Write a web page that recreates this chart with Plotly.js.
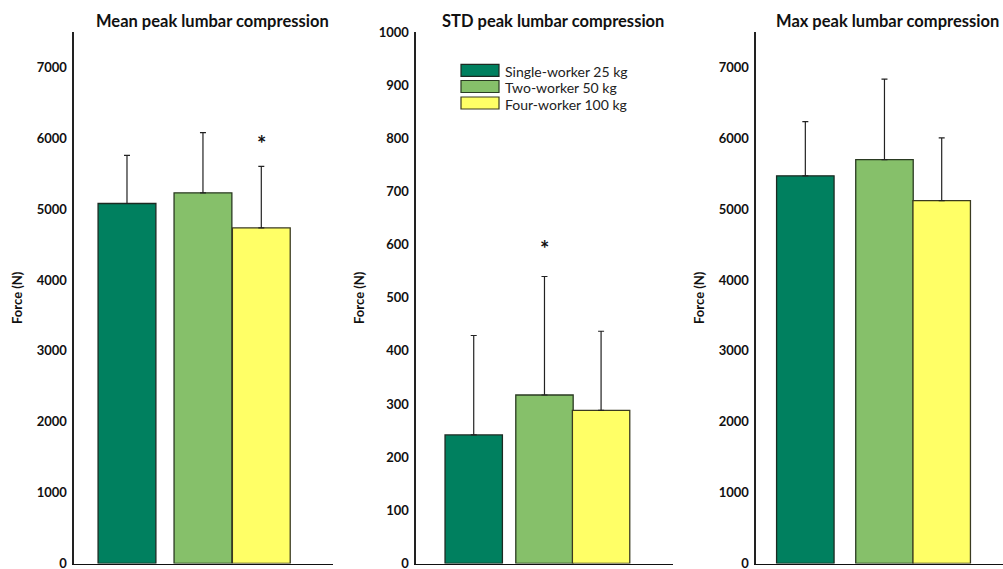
<!DOCTYPE html>
<html>
<head>
<meta charset="utf-8">
<script src="https://cdn.plot.ly/plotly-3.0.1.min.js"></script>
<style>
html,body{margin:0;padding:0;overflow:hidden;background:#fff;}
#chart{width:1020px;height:585px;}
</style>
</head>
<body>
<div id="chart"></div>
<script>
// ---- data ----
const groups = ['Single-worker 25 kg', 'Two-worker 50 kg', 'Four-worker 100 kg'];
const panelTitles = ['Mean peak lumbar compression', 'STD peak lumbar compression', 'Max peak lumbar compression'];
const yTitle = 'Force (N)';
const meanValues = [5080, 5230, 4735];
const meanErrors = [680, 850, 870];
const stdValues = [242, 317, 288];
const stdErrors = [187, 223, 149];
const maxValues = [5470, 5700, 5120];
const maxErrors = [765, 1135, 885];
const significance = ['', '', '*'];      // mean panel
const significanceStd = ['', '*', ''];   // std panel
const significanceMax = ['', '', ''];

// ---- styling ----
const W = 1020, H = 585;   // page is cropped to 1003x569 by the window
const colors = ['#00805F', '#86C06A', '#FFFF66'];
const outline = ['#1c2a22', '#2a3a22', '#3a3a20'];
const FONT = 'Lato, "Open Sans", "Liberation Sans", sans-serif';
const panelsPx = [[73.7, 333], [415.7, 673], [755.7, 1013.5]];
const titleShift = [9, 9, 3];
const offsets = [[-0.406, -0.113, 0.112], [-0.386, -0.111, 0.109], [-0.419, -0.112, 0.110]];
const barW = 0.223;
const yDom = [(H - 563.5) / H, (H - 32) / H];

const panels = [
  {vals: meanValues, errs: meanErrors, sig: significance, range: [0, 7500], dtick: 1000, sigY: 5920},
  {vals: stdValues, errs: stdErrors, sig: significanceStd, range: [0, 1000], dtick: 100, sigY: 592},
  {vals: maxValues, errs: maxErrors, sig: significanceMax, range: [0, 7500], dtick: 1000, sigY: 0}
];

const data = [];
const layout = {
  width: W, height: H,
  margin: {l: 0, r: 0, t: 0, b: 0},
  paper_bgcolor: '#fff', plot_bgcolor: 'rgba(0,0,0,0)',
  barmode: 'overlay',
  showlegend: false,
  font: {family: FONT, color: '#111'},
  annotations: [], shapes: []
};

panels.forEach((p, pi) => {
  const sfx = pi === 0 ? '' : String(pi + 1);
  groups.forEach((g, gi) => {
    data.push({
      type: 'bar', name: g,
      x: [''], y: [p.vals[gi]],
      xaxis: 'x' + sfx, yaxis: 'y' + sfx,
      offset: offsets[pi][gi], width: barW,
      marker: {color: colors[gi], line: {color: outline[gi], width: 1.3}},
      error_y: {type: 'data', symmetric: false, array: [p.errs[gi]], arrayminus: [0],
                color: '#222', thickness: 1.2, width: 3},
      hoverinfo: 'skip'
    });
    if (p.sig[gi]) {
      layout.annotations.push({
        xref: 'x' + sfx, yref: 'y' + sfx,
        x: offsets[pi][gi] + barW / 2, y: p.sigY,
        text: '<b>' + p.sig[gi] + '</b>', showarrow: false,
        font: {family: FONT, size: 22, color: '#111'}
      });
    }
  });
  const [a, b] = panelsPx[pi];
  layout['xaxis' + sfx] = {
    domain: [a / W, b / W], anchor: 'y' + sfx, type: 'category',
    range: [-0.5, 0.5], showticklabels: false, ticks: '',
    showline: true, linecolor: '#111', linewidth: 1.3,
    showgrid: false, zeroline: false, fixedrange: true
  };
  layout['yaxis' + sfx] = {
    domain: yDom, anchor: 'x' + sfx, range: p.range, dtick: p.dtick, tick0: 0,
    showline: true, linecolor: '#222', linewidth: 1.3,
    ticks: 'outside', ticklen: 3, tickcolor: 'rgba(0,0,0,0)',
    showgrid: false, zeroline: false, fixedrange: true,
    tickfont: {family: FONT, size: 13, color: '#111', weight: 'bold'},
    title: {text: yTitle, standoff: 11, font: {family: FONT, size: 13, color: '#111', weight: 'bold'}}
  };
  layout.annotations.push({
    xref: 'paper', yref: 'paper',
    x: ((a + b) / 2 + titleShift[pi]) / W, y: (H - 21) / H,
    text: '<b>' + panelTitles[pi] + '</b>', showarrow: false,
    xanchor: 'center', yanchor: 'middle',
    font: {family: FONT, size: 16.5, color: '#111'}
  });
});

// custom legend (inside STD panel)
const legX0 = 461, legX1 = 499, legTop = [64.3, 80.5, 97], legH = 12;
groups.forEach((g, gi) => {
  layout.shapes.push({
    type: 'rect', xref: 'paper', yref: 'paper',
    x0: legX0 / W, x1: legX1 / W,
    y0: (H - legTop[gi] - legH) / H, y1: (H - legTop[gi]) / H,
    fillcolor: colors[gi], line: {color: outline[gi], width: 1.2}
  });
  layout.annotations.push({
    xref: 'paper', yref: 'paper',
    x: 503 / W, y: (H - legTop[gi] - legH / 2 - 1) / H,
    xanchor: 'left', yanchor: 'middle', showarrow: false,
    text: g, font: {family: FONT, size: 14, color: '#222'}
  });
});

Plotly.newPlot('chart', data, layout, {staticPlot: true});
</script>
</body>
</html>
